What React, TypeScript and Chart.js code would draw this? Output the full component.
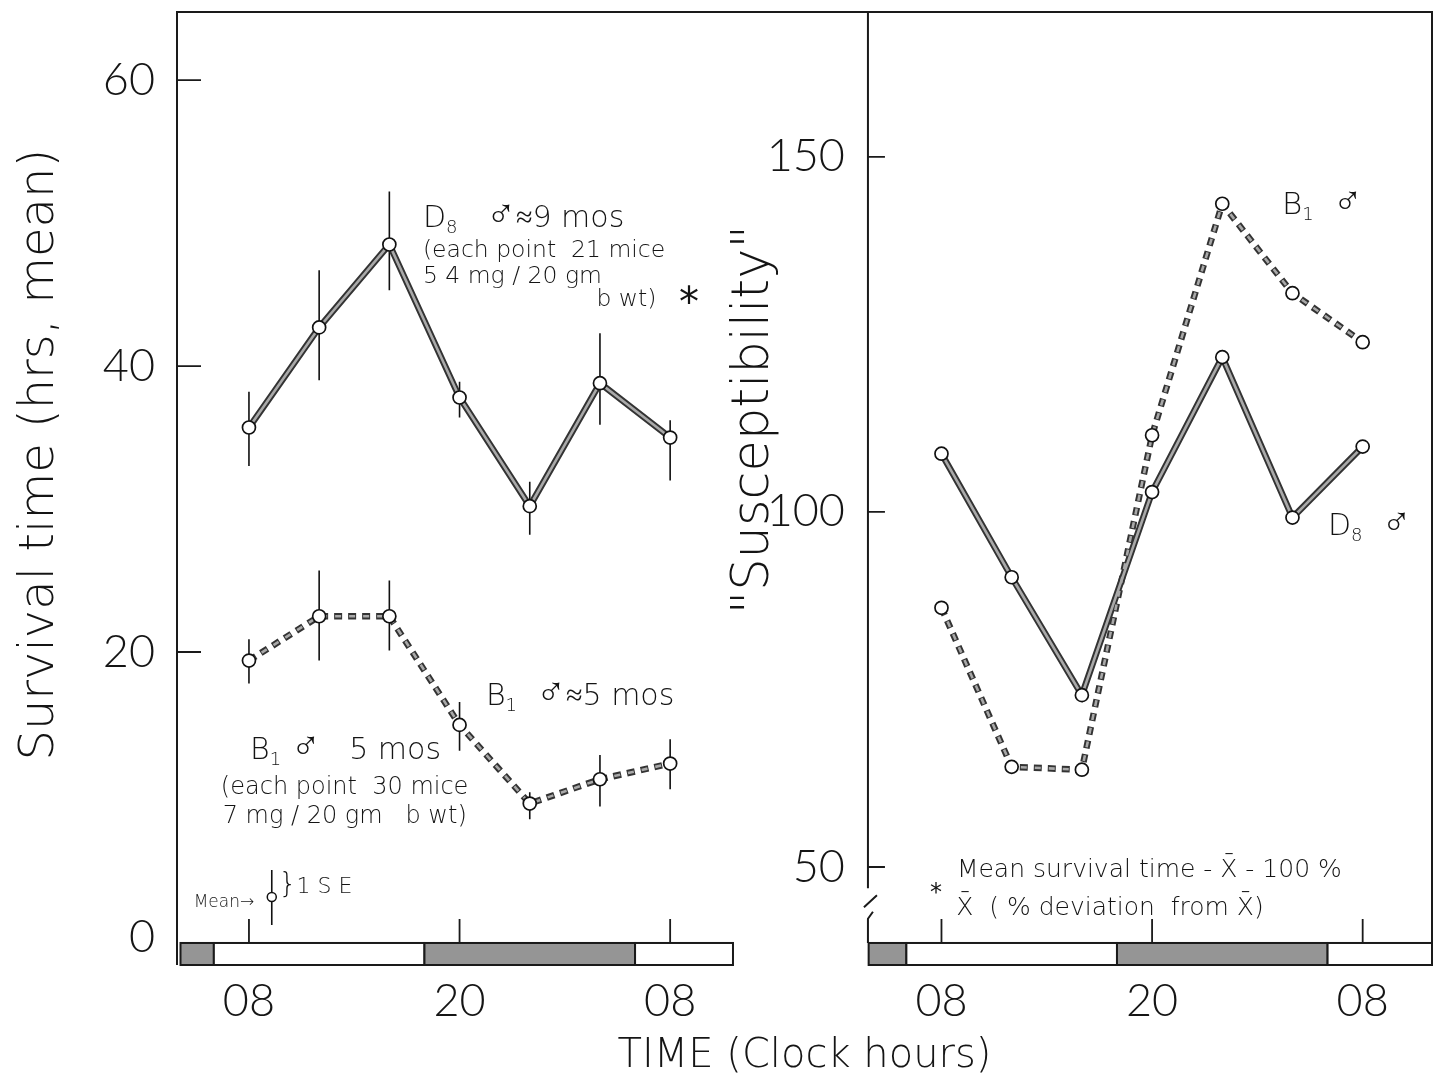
import { useEffect, useRef } from 'react';
import { Chart, registerables } from 'chart.js';

Chart.register(...registerables);

// ---------------- data ----------------
// sampling times, hours after 08:00 clock time
const HOURS = [0, 4, 8, 12, 16, 20, 24];
// the right panel is laid on the same x scale, shifted by this many hours
const RIGHT_PANEL_OFFSET = 39.46;
const X_TICK_HOURS = [0, 12, 24];
const X_TICK_LABELS = ['08', '20', '08'];
const Y_TICKS = [0, 20, 40, 60];
const Y2_TICKS = [50, 100, 150];

// left panel: survival time (hrs, mean) with 1 SE bars
const D8_SURVIVAL = [35.7, 42.7, 48.5, 37.8, 30.2, 38.8, 35.0];
const D8_SURVIVAL_HI = [38.2, 46.7, 52.2, 38.9, 31.9, 42.3, 36.2];
const D8_SURVIVAL_LO = [33.0, 39.0, 45.3, 36.4, 28.2, 35.9, 32.0];
const B1_SURVIVAL = [19.4, 22.5, 22.5, 14.9, 9.4, 11.1, 12.2];
const B1_SURVIVAL_HI = [20.9, 25.7, 25.0, 16.5, 10.2, 12.8, 13.9];
const B1_SURVIVAL_LO = [17.8, 19.4, 20.1, 13.1, 8.3, 9.2, 10.4];
// legend sample "Mean -> o } 1 S E"
const SE_SAMPLE_X = [1.3];
const SE_SAMPLE_MEAN = [2.87];
const SE_SAMPLE_HI = [4.76];
const SE_SAMPLE_LO = [0.91];

// right panel: "Susceptibility" (% of mean survival time)
const D8_SUSCEPT = [108.2, 90.8, 74.2, 102.8, 121.8, 99.2, 109.2];
const B1_SUSCEPT = [86.5, 64.1, 63.7, 110.8, 143.4, 130.8, 123.9];

// light / dark schedule bar segments [from hour, to hour, dark?]
const LD_LEFT: [number, number, boolean][] = [[-3.9, -2, true], [-2, 10, false], [10, 22, true], [22, 27.58, false]];
const LD_RIGHT: [number, number, boolean][] = [[-4.15, -2, true], [-2, 10, false], [10, 22, true], [22, 27.95, false]];

// ---------------- layout / style ----------------
const W = 1436;
const H = 1077;
const TICK_FONT = 'Lato';
const TEXT_FONT = '"DejaVu Sans"';
const X_MIN = -4.1;
const X_MAX = 67.41;
const Y_MIN = -1.89;
const Y_MAX = 64.76;
const Y2_MIN = 36.2;
const Y2_MAX = 170.4;
const DIVIDER_X = 35.27;
const Y2_LABEL_X = 33.96;
const BAR_TOP = -0.35;
const BREAK_TOP = 47.0;
const BREAK_BOTTOM = 43.0;

type Run = [string, number, number?, string?];
type Ann = { axis: 'y' | 'y2'; x: number; y: number; runs: Run[] };

const MALE = '\u2642';

const ANNOTATIONS: Ann[] = [
  { axis: 'y', x: 9.91, y: 49.72, runs: [['D', 30], ['8', 18, 6], ['   ', 30], [MALE, 40], ['\u22489 mos', 30]] },
  { axis: 'y', x: 9.91, y: 47.62, runs: [['(each point  21 mice', 23.5]] },
  { axis: 'y', x: 9.91, y: 45.8, runs: [['5 4 mg / 20 gm', 23.5]] },
  { axis: 'y', x: 19.8, y: 44.2, runs: [['b wt)', 23.5]] },
  { axis: 'y', x: 24.5, y: 43.5, runs: [['*', 40, 0, '400']] },
  { axis: 'y', x: 13.5, y: 16.29, runs: [['B', 30], ['1', 18, 6], ['  ', 30], [MALE, 40], ['\u22485 mos', 30]] },
  { axis: 'y', x: 0.06, y: 12.52, runs: [['B', 30], ['1', 18, 6], [' ', 30], [MALE, 40], ['   5 mos', 30]] },
  { axis: 'y', x: -1.6, y: 10.07, runs: [['(each point  30 mice', 24]] },
  { axis: 'y', x: -1.5, y: 8.04, runs: [['7 mg / 20 gm   b wt)', 24]] },
  { axis: 'y', x: -3.15, y: 2.17, runs: [['Mean\u2192', 17]] },
  { axis: 'y', x: 1.7, y: 3.15, runs: [['}', 28], ['1 S E', 22]] },
  { axis: 'y2', x: 58.86, y: 142.0, runs: [['B', 31], ['1', 18, 6], ['  ', 30], [MALE, 40]] },
  { axis: 'y2', x: 61.48, y: 96.76, runs: [['D', 30], ['8', 18, 6], ['  ', 30], [MALE, 40]] },
  { axis: 'y2', x: 40.34, y: 48.6, runs: [['Mean survival time - X\u0304 - 100 %', 25]] },
  { axis: 'y2', x: 38.8, y: 45.35, runs: [['*', 24, 0, '400']] },
  { axis: 'y2', x: 40.3, y: 43.24, runs: [['X\u0304  ( % deviation  from X\u0304)', 25]] },
];

const TITLES = [
  { axis: 'y', x: -11.9, y: 33.8, text: 'Survival time (hrs, mean)', size: 48 },
  { axis: 'y2', x: 28.83, y: 113, text: '"Susceptibility"', size: 51 },
];

export default function App() {
  const canvasRef = useRef<HTMLCanvasElement | null>(null);

  useEffect(() => {
    const canvas = canvasRef.current;
    if (!canvas) return;

    const pts = (vals: number[], off: number) => HOURS.map((h, i) => ({ x: h + off, y: vals[i] }));
    const series = (data: any[], yAxisID: string, dashed: boolean, top: boolean) => ({
      data,
      yAxisID,
      xAxisID: 'x',
      borderColor: top ? '#a9a9a9' : '#333333',
      borderWidth: top ? 2.6 : 6.5,
      borderDash: dashed ? (top ? [6, 8] : [8, 6]) : [],
      borderDashOffset: dashed && top ? -1 : 0,
      pointRadius: top ? 6.5 : 0,
      pointHoverRadius: top ? 6.5 : 0,
      pointBackgroundColor: '#ffffff',
      pointBorderColor: '#111111',
      pointBorderWidth: 1.7,
      tension: 0,
      fill: false,
      order: top ? 1 : 10,
    });

    const datasets: any[] = [
      series(pts(D8_SURVIVAL, 0), 'y', false, true),
      series(pts(B1_SURVIVAL, 0), 'y', true, true),
      series(pts(D8_SUSCEPT, RIGHT_PANEL_OFFSET), 'y2', false, true),
      series(pts(B1_SUSCEPT, RIGHT_PANEL_OFFSET), 'y2', true, true),
      series(pts(D8_SURVIVAL, 0), 'y', false, false),
      series(pts(B1_SURVIVAL, 0), 'y', true, false),
      series(pts(D8_SUSCEPT, RIGHT_PANEL_OFFSET), 'y2', false, false),
      series(pts(B1_SUSCEPT, RIGHT_PANEL_OFFSET), 'y2', true, false),
      {
        data: SE_SAMPLE_X.map((x, i) => ({ x, y: SE_SAMPLE_MEAN[i] })),
        yAxisID: 'y',
        xAxisID: 'x',
        showLine: false,
        pointRadius: 4.5,
        pointBackgroundColor: '#ffffff',
        pointBorderColor: '#111111',
        pointBorderWidth: 1.5,
        order: 0,
      },
    ];

    const xTicks = [...X_TICK_HOURS, ...X_TICK_HOURS.map((h) => h + RIGHT_PANEL_OFFSET)];
    const xLabels = [...X_TICK_LABELS, ...X_TICK_LABELS];

    const zeroPad = (s: any) => {
      s.paddingTop = 0;
      s.paddingBottom = 0;
      s.paddingLeft = 0;
      s.paddingRight = 0;
    };

    const decor = {
      id: 'decor',
      beforeDatasetsDraw(chart: any) {
        const { ctx, chartArea: ca, scales } = chart;
        const x = scales.x;
        const y = scales.y;
        const y2 = scales.y2;
        ctx.save();
        ctx.strokeStyle = '#1a1a1a';
        ctx.lineWidth = 2;
        ctx.lineCap = 'butt';

        const barTop = y.getPixelForValue(BAR_TOP);
        const barBot = ca.bottom;
        const drawBar = (segs: [number, number, boolean][], off: number) => {
          segs.forEach(([a, b, dark]) => {
            const xa = x.getPixelForValue(a + off);
            const xb = x.getPixelForValue(b + off);
            ctx.fillStyle = dark ? '#959595' : '#ffffff';
            ctx.fillRect(xa, barTop, xb - xa, barBot - barTop);
            ctx.strokeRect(xa, barTop, xb - xa, barBot - barTop);
          });
        };
        drawBar(LD_LEFT, 0);
        drawBar(LD_RIGHT, RIGHT_PANEL_OFFSET);

        // frame
        const dx = x.getPixelForValue(DIVIDER_X);
        ctx.beginPath();
        ctx.moveTo(ca.left, ca.bottom);
        ctx.lineTo(ca.left, ca.top);
        ctx.lineTo(ca.right, ca.top);
        ctx.lineTo(ca.right, ca.bottom);
        // right panel axis with break
        ctx.moveTo(dx, ca.top);
        ctx.lineTo(dx, y2.getPixelForValue(BREAK_TOP));
        ctx.moveTo(dx - 4, y2.getPixelForValue(BREAK_TOP) + 19);
        ctx.lineTo(dx + 9, y2.getPixelForValue(BREAK_TOP) + 7);
        const lb = y2.getPixelForValue(BREAK_BOTTOM);
        ctx.moveTo(dx + 5, lb - 5);
        ctx.lineTo(dx, lb + 2);
        ctx.lineTo(dx, barTop);
        ctx.stroke();

        // tick marks (inside)
        ctx.lineWidth = 1.8;
        ctx.beginPath();
        Y_TICKS.filter((v) => v > 0).forEach((v) => {
          const py = y.getPixelForValue(v);
          ctx.moveTo(ca.left, py);
          ctx.lineTo(ca.left + 24, py);
        });
        Y2_TICKS.forEach((v) => {
          const py = y2.getPixelForValue(v);
          ctx.moveTo(dx, py);
          ctx.lineTo(dx + 17, py);
        });
        xTicks.forEach((v) => {
          const px = x.getPixelForValue(v);
          ctx.moveTo(px, barTop);
          ctx.lineTo(px, barTop - 24);
        });
        ctx.stroke();

        // error bars (1 SE)
        ctx.lineWidth = 1.6;
        ctx.strokeStyle = '#111';
        ctx.beginPath();
        const err = (xs: number[], hi: number[], lo: number[]) => {
          xs.forEach((xv, i) => {
            const px = x.getPixelForValue(xv);
            ctx.moveTo(px, y.getPixelForValue(hi[i]));
            ctx.lineTo(px, y.getPixelForValue(lo[i]));
          });
        };
        err(HOURS, D8_SURVIVAL_HI, D8_SURVIVAL_LO);
        err(HOURS, B1_SURVIVAL_HI, B1_SURVIVAL_LO);
        err(SE_SAMPLE_X, SE_SAMPLE_HI, SE_SAMPLE_LO);
        ctx.stroke();
        ctx.restore();
      },
      afterDatasetsDraw(chart: any) {
        const { ctx, scales } = chart;
        ctx.save();
        ctx.fillStyle = '#141414';
        ctx.textAlign = 'left';
        ctx.textBaseline = 'alphabetic';
        ANNOTATIONS.forEach((a) => {
          let cx = scales.x.getPixelForValue(a.x);
          const cy = scales[a.axis].getPixelForValue(a.y);
          a.runs.forEach(([t, size, dy, weight]) => {
            ctx.font = `${weight || '200'} ${size}px ${TEXT_FONT}`;
            ctx.fillText(t, cx, cy + (dy || 0));
            cx += ctx.measureText(t).width;
          });
        });
        TITLES.forEach((t) => {
          const px = scales.x.getPixelForValue(t.x);
          const py = scales[t.axis].getPixelForValue(t.y);
          ctx.save();
          ctx.translate(px, py);
          ctx.rotate(-Math.PI / 2);
          ctx.textAlign = 'center';
          ctx.textBaseline = 'middle';
          ctx.font = `200 ${t.size}px ${TEXT_FONT}`;
          ctx.fillText(t.text, 0, 0);
          ctx.restore();
        });
        ctx.restore();
      },
    };

    const tickFont = { family: TICK_FONT, weight: '300' as any, size: 45, lineHeight: 1 };

    const chart = new Chart(canvas, {
      type: 'line',
      data: { datasets },
      plugins: [decor],
      options: {
        responsive: false,
        animation: false,
        devicePixelRatio: 1,
        layout: { padding: { top: 12, right: 4, left: 0, bottom: 0 }, autoPadding: false },
        plugins: { legend: { display: false }, tooltip: { enabled: false } },
        scales: {
          x: {
            type: 'linear',
            min: X_MIN,
            max: X_MAX,
            afterBuildTicks: (s: any) => {
              s.ticks = xTicks.map((v) => ({ value: v }));
            },
            afterFit: (s: any) => {
              s.height = 112;
              zeroPad(s);
            },
            ticks: {
              callback: (_v: any, i: number) => xLabels[i],
              font: tickFont,
              color: '#151515',
              padding: 14,
              autoSkip: false,
              maxRotation: 0,
            },
            grid: { display: false, drawTicks: false },
            border: { display: false },
            title: {
              display: true,
              text: 'TIME (Clock hours)',
              color: '#151515',
              font: { family: 'DejaVu Sans', weight: '200' as any, size: 40, lineHeight: 1 },
              padding: { top: 0, bottom: 0 },
            },
          },
          y: {
            type: 'linear',
            position: 'left',
            min: Y_MIN,
            max: Y_MAX,
            afterBuildTicks: (s: any) => {
              s.ticks = Y_TICKS.map((v) => ({ value: v }));
            },
            afterFit: (s: any) => {
              s.width = 177;
              zeroPad(s);
            },
            ticks: { font: tickFont, color: '#151515', padding: 22 },
            grid: { display: false, drawTicks: false },
            border: { display: false },
          },
          y2: {
            type: 'linear',
            position: { x: Y2_LABEL_X } as any,
            min: Y2_MIN,
            max: Y2_MAX,
            afterBuildTicks: (s: any) => {
              s.ticks = Y2_TICKS.map((v) => ({ value: v }));
            },
            afterFit: (s: any) => {
              zeroPad(s);
            },
            ticks: { font: tickFont, color: '#151515', padding: 0 },
            grid: { display: false, drawTicks: false },
            border: { display: false },
          },
        },
      } as any,
    });

    return () => chart.destroy();
  }, []);

  return (
    <div style={{ position: 'absolute', left: 0, top: 0, width: W, height: H, background: '#ffffff' }}>
      <canvas ref={canvasRef} width={W} height={H} style={{ display: 'block' }} />
    </div>
  );
}
